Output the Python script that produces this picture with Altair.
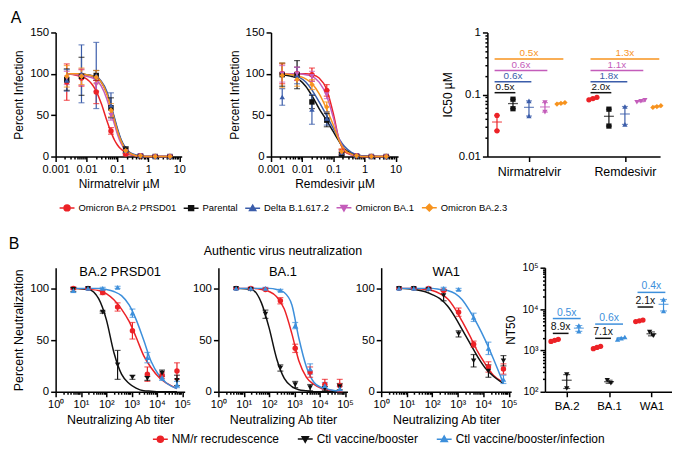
import altair as alt
import pandas as pd

FONT = "Liberation Sans"

# ---------------- Panel A: antiviral dose response ----------------
A_SERIES = ["Omicron BA.2 PRSD01", "Parental", "Delta B.1.617.2", "Omicron BA.1", "Omicron BA.2.3"]
A_COLORS = ["#ec2227", "#111111", "#3b5daa", "#c45cba", "#f7931e"]
A_SHAPES = ["circle", "square", "triangle-up", "triangle-down", "diamond"]

A_CONC = [0.00229, 0.00686, 0.0206, 0.0617, 0.185, 0.556, 1.67, 5.0]

NIR_MEAN = [
    [90, 95, 78, 31, 3, 0.5, 0, 0],
    [93, 97, 98, 59, 8, 1, 0, 0],
    [92, 100, 98, 62, 7, 1, 0, 0],
    [95, 96, 87, 50, 6, 1, 0, 0],
    [97, 97, 96, 56, 7, 1, 0, 0],
]
NIR_SD = [
    [22, 10, 14, 4, 2, 1, 1, 1],
    [13, 23, 6, 12, 4, 1, 1, 1],
    [13, 35, 40, 15, 4, 1, 1, 1],
    [8, 10, 8, 6, 3, 1, 1, 1],
    [13, 10, 8, 8, 3, 1, 1, 1],
]
NIR_FIT_X = [0.0023, 0.005, 0.01, 0.02, 0.03, 0.045, 0.06, 0.08, 0.1, 0.13, 0.18, 0.25, 0.4, 0.7, 1.5, 5]
NIR_FIT = [
    [100, 98, 94, 80, 64, 44, 31, 20, 14, 9, 5, 2, 1, 0, 0, 0],
    [100, 100, 99, 96, 90, 77, 62, 45, 32, 20, 10, 4, 1, 0, 0, 0],
    [100, 100, 99, 97, 91, 79, 64, 47, 34, 21, 11, 5, 2, 0, 0, 0],
    [100, 99, 97, 93, 85, 70, 55, 39, 27, 16, 8, 3, 1, 0, 0, 0],
    [100, 100, 99, 96, 90, 76, 61, 44, 31, 19, 9, 4, 1, 0, 0, 0],
]

REM_MEAN = [
    [100, 100, 99, 80, 6, 1, 0, 0],
    [99, 99, 66, 44, 3, 1, 0, 0],
    [72, 98, 57, 46, 5, 1, 0, 0],
    [100, 100, 97, 75, 5, 1, 0, 0],
    [98, 93, 87, 60, 6, 1, 0, 0],
]
REM_SD = [
    [12, 8, 8, 7, 3, 1, 1, 1],
    [14, 17, 8, 8, 2, 1, 1, 1],
    [10, 10, 18, 8, 3, 1, 1, 1],
    [10, 8, 6, 5, 3, 1, 1, 1],
    [15, 8, 6, 6, 3, 1, 1, 1],
]
REM_FIT_X = [0.0023, 0.0045, 0.008, 0.013, 0.021, 0.035, 0.06, 0.1, 0.15, 0.23, 0.38, 0.8, 5]
REM_FIT = [
    [100, 100, 100, 100, 99, 95, 82, 52, 22, 6, 2, 0, 0],
    [99, 97, 93, 85, 73, 58, 44, 30, 19, 9, 4, 1, 0],
    [100, 99, 96, 90, 80, 66, 50, 34, 22, 12, 5, 1, 0],
    [100, 100, 100, 99, 97, 90, 74, 47, 22, 8, 2, 0, 0],
    [100, 99, 97, 94, 88, 76, 58, 38, 20, 8, 3, 0, 0],
]

DRUGS = ["Nirmatrelvir", "Remdesivir"]
# IC50 replicates per series: [Nirmatrelvir, Remdesivir]
IC50_RED = [[0.046, 0.026], [0.082, 0.086, 0.090]]
IC50_BLACK = [[0.084, 0.059], [0.058, 0.031]]
IC50_BLUE = [[0.079, 0.045], [0.064, 0.033]]
IC50_MAGENTA = [[0.074, 0.052], [0.075, 0.078, 0.081]]
IC50_ORANGE = [[0.070, 0.072, 0.074], [0.062, 0.064, 0.066]]
FOLD_NIR = ["0.5x", "0.6x", "0.6x", "0.5x"]
FOLD_REM = ["2.0x", "1.8x", "1.1x", "1.3x"]
FOLD_LEVEL_A = [0.107, 0.16, 0.243, 0.374]

# ---------------- Panel B: neutralization ----------------
B_SERIES = ["NM/r recrudescence", "Ctl vaccine/booster", "Ctl vaccine/booster/infection"]
B_COLORS = ["#ec2227", "#111111", "#3d8fdb"]
B_SHAPES = ["circle", "triangle-down", "triangle-up"]
B_TITER = [5, 19, 72, 280, 1080, 4200, 16000, 62000]
B_FIT_X = [5, 20, 50, 100, 200, 400, 800, 1500, 3000, 6000, 12000, 25000, 62000]

BA2_MEAN = [
    [100, 100, 96, 82, 59, 17, 16, 20],
    [99, 100, 77, 26, 14, 13, 18, 11],
    [98, 100, 100, 101, 76, 33, 14, 7],
]
BA2_SD = [
    [1, 1, 2, 4, 8, 7, 3, 8],
    [2, 1, 1, 14, 2, 2, 3, 5],
    [2, 1, 1, 1, 4, 5, 3, 3],
]
BA2_FIT = [
    [100, 99, 98, 95, 89, 80, 68, 53, 35, 23, 14, 8, 3],
    [100, 99, 90, 70, 38, 17, 8, 3.5, 1, 0.5, 0, 0, 0],
    [100, 100, 100, 99, 97, 93, 84, 70, 50, 29, 16, 8, 3],
]
BA1_MEAN = [
    [100, 100, 99, 88, 42, 19, 7, 6],
    [100, 99, 75, 23, 7, 4, 3, 5],
    [100, 100, 100, 98, 64, 22, 6, 3],
]
BA1_SD = [
    [1, 1, 1, 3, 4, 5, 5, 6],
    [1, 1, 4, 3, 3, 3, 2, 3],
    [1, 1, 1, 1, 3, 5, 3, 2],
]
BA1_FIT = [
    [100, 100, 99, 97, 92, 80, 56, 30, 14, 7, 3, 1.5, 0.5],
    [100, 99, 86, 62, 32, 13, 5, 2, 1, 0, 0, 0, 0],
    [100, 100, 100, 100, 99, 96, 84, 52, 24, 9, 4, 2, 0.5],
]
WA1_MEAN = [
    [100, 100, 100, 98, 77, 46, 24, 22],
    [100, 100, 99, 93, 56, 30, 20, 30],
    [100, 100, 100, 100, 99, 72, 42, 12],
]
WA1_SD = [
    [1, 1, 1, 1, 4, 3, 5, 5],
    [1, 1, 1, 5, 3, 6, 6, 5],
    [1, 1, 1, 1, 1, 4, 6, 4],
]
WA1_FIT = [
    [100, 100, 99, 98, 95, 90, 80, 68, 54, 39, 27, 16, 9],
    [100, 99, 97, 94, 90, 83, 72, 60, 47, 34, 23, 15, 8],
    [100, 100, 100, 100, 99, 98, 95, 89, 78, 65, 50, 32, 8],
]

VARIANTS = ["BA.2", "BA.1", "WA1"]
NT50_RED = [[1650, 1750, 1850], [1100, 1180, 1260], [5000, 5200, 5400]]
NT50_BLACK = [[260, 120], [190, 160], [2800, 2250]]
NT50_BLUE = [[4000, 2900], [1850, 1980, 2100], [17000, 9000]]
FOLD_BLACK = ["8.9x", "7.1x", "2.1x"]
FOLD_BLACK_LEVEL = [2580, 1960, 11200]
FOLD_BLUE = ["0.5x", "0.6x", "0.4x"]
FOLD_BLUE_LEVEL = [5900, 4330, 25300]

# ---------------- helpers ----------------
POW = "abs(log(datum.value) / LN10 - round(log(datum.value) / LN10)) < 0.000001"
SUP = "['\u2070','\u00b9','\u00b2','\u00b3','\u2074','\u2075','\u2076']"

MARKERS = {
    "circle": "M0.4,0A0.4,0.4,0,1,1,-0.4,0A0.4,0.4,0,1,1,0.4,0Z",
    "square": "M-0.33,-0.33H0.33V0.33H-0.33Z",
    "triangle-up": "M0,-0.42L0.42,0.3H-0.42Z",
    "triangle-down": "M0,0.42L0.42,-0.3H-0.42Z",
    "diamond": "M0,-0.45L0.45,0L0,0.45L-0.45,0Z",
}


def log_ticks(lo_exp, hi_exp):
    out = []
    for e in range(lo_exp, hi_exp):
        for m in range(1, 10):
            out.append(round(m * 10 ** e, 10))
    out.append(round(10 ** hi_exp, 10))
    return out


def log_axis(lo_exp, hi_exp, title, sup=False, **kw):
    lab = f"'10' + {SUP}[round(log(datum.value) / LN10)]" if sup else "format(datum.value, '~g')"
    return alt.Axis(values=log_ticks(lo_exp, hi_exp), labelExpr=f"({POW}) ? {lab} : ''",
                    tickSize={"condition": {"test": POW, "value": 5}, "value": 2.5},
                    labelOverlap=False, labelFlush=False, title=title, **kw)


def legend_layer(series, colors, shapes, leg):
    paths = ["M-1,0H1" + MARKERS[s] for s in shapes]
    df = pd.DataFrame({"series": series})
    return alt.Chart(df).transform_filter("false").mark_point(
        filled=True, opacity=1, strokeWidth=1.5).encode(
        color=alt.Color("series:N", scale=alt.Scale(domain=series, range=colors), legend=leg),
        shape=alt.Shape("series:N", scale=alt.Scale(domain=series, range=paths), legend=leg),
        stroke=alt.Stroke("series:N", scale=alt.Scale(domain=series, range=colors), legend=leg),
    )


def make_legend(x, y, size, colpad, laboff):
    return alt.Legend(orient="none", legendX=x, legendY=y, direction="horizontal", title=None,
                      labelFontSize=size, labelFont=FONT, labelColor="black", columnPadding=colpad,
                      labelOffset=laboff, symbolSize=225, symbolStrokeWidth=1.5, padding=0)


def curve_panel(series, colors, shapes, xs, means, sds, fit_x, fits, xdomain, xexp, xtitle, ytitle,
                ydomain, yvals, width, height, legend=None, title=None, sup=False,
                lab_size=11.5, xlab_size=11, title_size=12):
    pts = pd.DataFrame([
        {"series": s, "x": xs[i], "y": means[k][i],
         "lo": max(means[k][i] - sds[k][i], 0), "hi": means[k][i] + sds[k][i]}
        for k, s in enumerate(series) for i in range(len(xs))
    ])
    fit = pd.DataFrame([
        {"series": s, "x": fit_x[j], "y": fits[k][j], "o": j}
        for k, s in enumerate(series) for j in range(len(fit_x))
    ])
    xscale = alt.Scale(type="log", domain=xdomain)
    xaxis = log_axis(xexp[0], xexp[1], xtitle, sup, labelFontSize=xlab_size, titleFontSize=title_size)
    yscale = alt.Scale(domain=ydomain, nice=False, zero=True)
    yaxis = alt.Axis(values=yvals, title=ytitle, tickSize=5, labelFontSize=lab_size,
                     titleFontSize=title_size)

    def X(f):
        return alt.X(f"{f}:Q", scale=xscale, axis=xaxis)

    def Y(f):
        return alt.Y(f"{f}:Q", scale=yscale, axis=yaxis)

    col = alt.Color("series:N", scale=alt.Scale(domain=series, range=colors), legend=None)
    layers = []
    if legend is not None:
        layers.append(legend_layer(series, colors, shapes, legend))
    layers += [
        alt.Chart(fit).mark_line(strokeWidth=1.5, interpolate="monotone").encode(
            x=X("x"), y=Y("y"), color=col, order="o:Q"),
        alt.Chart(pts).mark_rule(strokeWidth=1.2).encode(x=X("x"), y=Y("lo"), y2="hi:Q", color=col),
        alt.Chart(pts).mark_tick(orient="horizontal", size=6, thickness=1.2).encode(
            x=X("x"), y=Y("lo"), color=col),
        alt.Chart(pts).mark_tick(orient="horizontal", size=6, thickness=1.2).encode(
            x=X("x"), y=Y("hi"), color=col),
        alt.Chart(pts).mark_point(filled=True, size=30, opacity=1).encode(
            x=X("x"), y=Y("y"), color=col,
            shape=alt.Shape("series:N", scale=alt.Scale(domain=series, range=shapes), legend=None)),
    ]
    ch = alt.layer(*layers).resolve_scale(color="independent", shape="independent",
                                          stroke="independent").properties(width=width, height=height)
    if title is not None:
        ch = ch.properties(title=title)
    return ch


def scatter_panel(groups, series, colors, shapes, values, step, jit, folds, xdomain, ydomain, yexp,
                  ytitle, sup, width, height, mean_size, cap_size, fold_size, lab_size, title_size):
    rows, stats, frows = [], [], []
    for g in range(len(groups)):
        for s, sname in enumerate(series):
            reps = values[s][g]
            n = len(reps)
            cx = g * step + s
            spread = max(reps) / min(reps) < 1.25
            for i, v in enumerate(reps):
                off = (i - (n - 1) / 2) * jit if spread else 0
                rows.append({"series": sname, "x": cx + off, "y": v})
            m = sum(reps) / n
            sd = (sum((v - m) ** 2 for v in reps) / (n - 1)) ** 0.5
            se = sd / n ** 0.5
            stats.append({"series": sname, "x": cx, "y": m, "lo": m - se, "hi": m + se})
    for s, labels, levels in folds:
        for g in range(len(groups)):
            x1 = g * step - 0.15
            x2 = g * step + s + 0.15
            frows.append({"series": series[s], "x": x1, "x2": x2, "xm": (x1 + x2) / 2,
                          "y": levels[g], "label": labels[g]})
    pts, st, fd = pd.DataFrame(rows), pd.DataFrame(stats), pd.DataFrame(frows)
    centers = [g * step + (len(series) - 1) / 2 for g in range(len(groups))]
    expr = f"'{groups[-1]}'"
    for g in range(len(groups) - 2, -1, -1):
        expr = f"datum.value < {centers[g] + step / 2} ? '{groups[g]}' : {expr}"
    xscale = alt.Scale(domain=xdomain, nice=False, zero=False)
    xaxis = alt.Axis(values=centers, labelExpr=expr, title=None, tickSize=5, labelFontSize=lab_size,
                     labelPadding=4, labelFlush=False)
    yscale = alt.Scale(type="log", domain=ydomain)
    yaxis = log_axis(yexp[0], yexp[1], ytitle, sup, labelFontSize=lab_size - 1,
                     titleFontSize=title_size)

    def X(f):
        return alt.X(f"{f}:Q", scale=xscale, axis=xaxis)

    def Y(f):
        return alt.Y(f"{f}:Q", scale=yscale, axis=yaxis)

    col = alt.Color("series:N", scale=alt.Scale(domain=series, range=colors), legend=None)
    layers = [
        alt.Chart(fd).mark_rule(strokeWidth=1.5).encode(x=X("x"), x2="x2:Q", y=Y("y"), color=col),
        alt.Chart(fd).mark_text(baseline="bottom", dy=-1, fontSize=fold_size).encode(
            x=X("xm"), y=Y("y"), text="label:N", color=col),
        alt.Chart(st).mark_rule(strokeWidth=1.2).encode(x=X("x"), y=Y("lo"), y2="hi:Q", color=col),
        alt.Chart(st).mark_tick(orient="horizontal", size=cap_size, thickness=1.2).encode(
            x=X("x"), y=Y("lo"), color=col),
        alt.Chart(st).mark_tick(orient="horizontal", size=cap_size, thickness=1.2).encode(
            x=X("x"), y=Y("hi"), color=col),
        alt.Chart(pts).mark_point(filled=True, size=28, opacity=1).encode(
            x=X("x"), y=Y("y"), color=col,
            shape=alt.Shape("series:N", scale=alt.Scale(domain=series, range=shapes), legend=None)),
        alt.Chart(st).mark_tick(orient="horizontal", size=mean_size, thickness=1.3).encode(
            x=X("x"), y=Y("y"), color=col),
    ]
    return alt.layer(*layers).resolve_scale(color="independent", shape="independent").properties(
        width=width, height=height)


# ---------------- build panels ----------------
legA = make_legend(3, 168, 9.5, 4, 3)
legB = make_legend(97, 164, 12, 15, 3)

A1 = curve_panel(A_SERIES, A_COLORS, A_SHAPES, A_CONC, NIR_MEAN, NIR_SD, NIR_FIT_X, NIR_FIT,
                 [0.001, 12], (-3, 1), "Nirmatrelvir \u00b5M", "Percent Infection", [0, 150],
                 [0, 50, 100, 150], 127, 125, legend=legA)
A2 = curve_panel(A_SERIES, A_COLORS, A_SHAPES, A_CONC, REM_MEAN, REM_SD, REM_FIT_X, REM_FIT,
                 [0.001, 12], (-3, 1), "Remdesivir \u00b5M", "Percent Infection", [0, 150],
                 [0, 50, 100, 150], 128, 125)
A3 = scatter_panel(DRUGS, A_SERIES, A_COLORS, A_SHAPES,
                   [IC50_RED, IC50_BLACK, IC50_BLUE, IC50_MAGENTA, IC50_ORANGE], 6, 0.25,
                   [(k + 1, [FOLD_NIR[k], FOLD_REM[k]], [FOLD_LEVEL_A[k]] * 2) for k in range(4)],
                   [-0.6, 10.2], [0.01, 1], (-2, 0), "IC50 \u00b5M", False, 174, 125,
                   10, 6, 10, 12.5, 12)

ttl = dict(fontSize=13, offset=-11, frame="group", anchor="middle", fontWeight="normal", color="black")
B1 = curve_panel(B_SERIES, B_COLORS, B_SHAPES, B_TITER, BA2_MEAN, BA2_SD, B_FIT_X, BA2_FIT,
                 [1, 125000], (0, 5), "Neutralizing Ab titer", "Percent Neutralization", [0, 120],
                 [0, 50, 100], 130, 125, legend=legB, title=alt.Title("BA.2 PRSD01", **ttl),
                 sup=True, lab_size=11.5, xlab_size=11, title_size=12.5)
B2 = curve_panel(B_SERIES, B_COLORS, B_SHAPES, B_TITER, BA1_MEAN, BA1_SD, B_FIT_X, BA1_FIT,
                 [1, 125000], (0, 5), "Neutralizing Ab titer", None, [0, 120],
                 [0, 50, 100], 130, 125,
                 title=alt.Title("Authentic virus neutralization", subtitle="BA.1", subtitleFontSize=13,
                                 subtitleColor="black", subtitlePadding=8, subtitleFont=FONT,
                                 **{**ttl, "fontSize": 12.5}),
                 sup=True, lab_size=11.5, xlab_size=11, title_size=12.5)
B3 = curve_panel(B_SERIES, B_COLORS, B_SHAPES, B_TITER, WA1_MEAN, WA1_SD, B_FIT_X, WA1_FIT,
                 [1, 125000], (0, 5), "Neutralizing Ab titer", None, [0, 120],
                 [0, 50, 100], 131, 125, title=alt.Title("WA1", **ttl),
                 sup=True, lab_size=11.5, xlab_size=11, title_size=12.5)
B4 = scatter_panel(VARIANTS, B_SERIES, B_COLORS, B_SHAPES, [NT50_RED, NT50_BLACK, NT50_BLUE], 3.5, 0.3,
                   [(1, FOLD_BLACK, FOLD_BLACK_LEVEL), (2, FOLD_BLUE, FOLD_BLUE_LEVEL)],
                   [-0.8, 9.7], [100, 100000], (2, 5), "NT50", True, 128, 125,
                   10, 7, 10.5, 11.5, 12)

indep = dict(color="independent", shape="independent", stroke="independent")
rowA = alt.hconcat(A1, A2, A3, spacing=90, bounds="flush",
                   title=alt.Title("A", anchor="start", frame="bounds", fontSize=16, fontWeight="normal",
                                   offset=1, dx=-2, color="black")).resolve_scale(**indep)
rowB = alt.hconcat(B1, B2, B3, B4, spacing=34, bounds="flush",
                   title=alt.Title("B", anchor="start", frame="bounds", fontSize=16, fontWeight="normal",
                                   offset=-7, dx=-4, color="black")).resolve_scale(**indep)

chart = alt.vconcat(rowA, rowB, spacing=22).resolve_scale(**indep).properties(
    padding={"left": 0, "top": 0, "right": 0, "bottom": 0}
).configure(font=FONT).configure_axis(
    domainColor="black", domainWidth=1.5, tickColor="black", tickWidth=1.5, labelColor="black",
    titleColor="black", grid=False, titleFontWeight="normal", labelPadding=2, titlePadding=4,
    labelFont=FONT, titleFont=FONT
).configure_view(stroke=None).configure_title(font=FONT, fontWeight="normal", color="black")

chart.save("out.html", embed_options={"renderer": "svg", "actions": False})
